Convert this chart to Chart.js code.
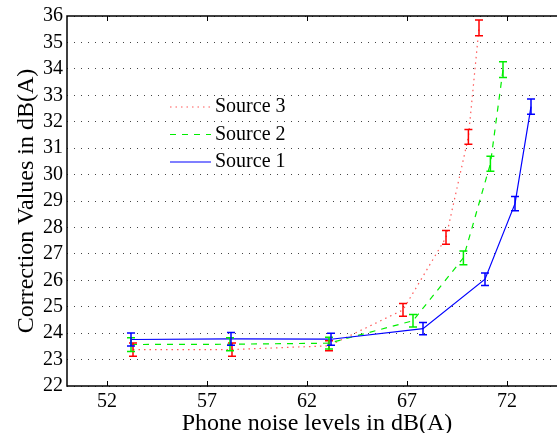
<!DOCTYPE html>
<html>
<head>
<meta charset="utf-8">
<script src="https://cdn.jsdelivr.net/npm/chart.js@4.4.0/dist/chart.umd.min.js"></script>
<style>
  html, body { margin: 0; padding: 0; background: #fff; overflow: hidden; }
  #wrap { width: 557px; height: 433px; overflow: hidden; }
</style>
</head>
<body>
<div id="wrap"><canvas id="chart" width="580" height="433"></canvas></div>
<script>
// 数据
const seriesLabels = ['Source 1', 'Source 2', 'Source 3'];
const seriesColors = ['#0000ff', '#00ee00', '#ff0000'];

const source1X = [53.2, 58.2, 63.2, 67.8, 70.9, 72.4, 73.2];
const source1Y = [23.76, 23.78, 23.77, 24.17, 26.04, 28.9, 32.57];
const source1Err = [0.25, 0.24, 0.23, 0.23, 0.24, 0.27, 0.29];

const source2X = [53.2, 58.15, 63.1, 67.3, 69.82, 71.17, 71.8];
const source2Y = [23.57, 23.58, 23.62, 24.47, 26.85, 30.41, 33.97];
const source2Err = [0.26, 0.25, 0.22, 0.24, 0.26, 0.28, 0.3];

const source3X = [53.3, 58.25, 63.1, 66.8, 68.95, 70.07, 70.6];
const source3Y = [23.38, 23.38, 23.52, 24.88, 27.62, 31.43, 35.55];
const source3Err = [0.25, 0.25, 0.19, 0.24, 0.26, 0.28, 0.3];

const xTickValues = [52, 57, 62, 67, 72];
const xTitle = 'Phone noise levels in dB(A)';
const yTitle = 'Correction Values in dB(A)';

const serif = '"Liberation Serif", "DejaVu Serif", serif';

function toPoints(xs, ys) {
    return xs.map((x, i) => ({ x: x, y: ys[i] }));
}

// 误差棒
const errorBarPlugin = {
    id: 'errorBars',
    afterDatasetsDraw(chart) {
        const ctx = chart.ctx;
        const xs = chart.scales.x;
        const ys = chart.scales.y;
        const errs = [source1Err, source2Err, source3Err];
        ctx.save();
        for (let d = chart.data.datasets.length - 1; d >= 0; d--) {
            const ds = chart.data.datasets[d];
            ctx.strokeStyle = ds.barColor;
            ctx.lineWidth = 1.5;
            ctx.setLineDash([]);
            ds.data.forEach((p, i) => {
                const px = xs.getPixelForValue(p.x);
                const top = ys.getPixelForValue(p.y + errs[d][i]);
                const bot = ys.getPixelForValue(p.y - errs[d][i]);
                const cap = 4;
                ctx.beginPath();
                ctx.moveTo(px, top); ctx.lineTo(px, bot);
                ctx.moveTo(px - cap, top); ctx.lineTo(px + cap, top);
                ctx.moveTo(px - cap, bot); ctx.lineTo(px + cap, bot);
                ctx.stroke();
            });
        }
        ctx.restore();
    }
};

// 边框和内向刻度
const framePlugin = {
    id: 'frame',
    afterDraw(chart) {
        const ctx = chart.ctx;
        const a = chart.chartArea;
        const xs = chart.scales.x;
        ctx.save();
        ctx.strokeStyle = '#000';
        ctx.lineWidth = 1.5;
        ctx.setLineDash([]);
        ctx.strokeRect(a.left, a.top, a.right - a.left, a.bottom - a.top);
        ctx.lineWidth = 1;
        xTickValues.forEach(v => {
            const px = Math.round(xs.getPixelForValue(v)) + 0.5;
            ctx.beginPath();
            ctx.moveTo(px, a.bottom); ctx.lineTo(px, a.bottom - 5);
            ctx.moveTo(px, a.top); ctx.lineTo(px, a.top + 5);
            ctx.stroke();
        });
        ctx.restore();
    }
};

// 图例（画在图内）
const innerLegendPlugin = {
    id: 'innerLegend',
    afterDraw(chart) {
        const ctx = chart.ctx;
        const rows = [2, 1, 0];
        const x0 = 170, x1 = 211, y0 = 107, gap = 27.5;
        ctx.save();
        ctx.font = '20px ' + serif;
        ctx.textBaseline = 'middle';
        ctx.fillStyle = '#000';
        rows.forEach((d, r) => {
            const ds = chart.data.datasets[d];
            const y = y0 + r * gap;
            ctx.strokeStyle = ds.borderColor;
            ctx.lineWidth = ds.borderWidth;
            ctx.setLineDash(ds.borderDash || []);
            ctx.beginPath();
            ctx.moveTo(x0, y); ctx.lineTo(x1, y);
            ctx.stroke();
            ctx.fillText(ds.label, x1 + 4, y);
        });
        ctx.restore();
    }
};

new Chart(document.getElementById('chart'), {
    type: 'line',
    data: {
        datasets: [
            {
                label: seriesLabels[0],
                data: toPoints(source1X, source1Y),
                borderColor: seriesColors[0],
                barColor: seriesColors[0],
                borderWidth: 1.2,
                borderDash: []
            },
            {
                label: seriesLabels[1],
                data: toPoints(source2X, source2Y),
                borderColor: seriesColors[1],
                barColor: seriesColors[1],
                borderWidth: 1.2,
                borderDash: [6, 6]
            },
            {
                label: seriesLabels[2],
                data: toPoints(source3X, source3Y),
                borderColor: 'rgba(255, 60, 60, 0.85)',
                barColor: seriesColors[2],
                borderWidth: 1.2,
                borderDash: [1.5, 4]
            }
        ]
    },
    options: {
        responsive: false,
        animation: false,
        layout: { padding: { top: 16, right: 13, left: 0, bottom: 0 } },
        elements: {
            point: { radius: 0 },
            line: { tension: 0, fill: false }
        },
        plugins: {
            legend: { display: false },
            tooltip: { enabled: false }
        },
        scales: {
            x: {
                type: 'linear',
                min: 50,
                max: 75,
                afterBuildTicks: s => { s.ticks = xTickValues.map(v => ({ value: v })); },
                afterFit: s => { s.height = 47; },
                grid: { display: false },
                border: { display: false },
                ticks: {
                    color: '#000',
                    padding: -4,
                    font: { family: serif, size: 20 }
                },
                title: {
                    display: true,
                    text: xTitle,
                    color: '#000',
                    padding: { top: 0, bottom: -5 },
                    font: { family: serif, size: 24 }
                }
            },
            y: {
                min: 22,
                max: 36,
                afterFit: s => { s.width = 67; },
                grid: {
                    color: '#444',
                    lineWidth: 1,
                    drawTicks: false
                },
                border: { display: false, dash: [1, 6] },
                ticks: {
                    stepSize: 1,
                    autoSkip: false,
                    color: '#000',
                    padding: 4,
                    font: { family: serif, size: 20 }
                },
                title: {
                    display: true,
                    text: yTitle,
                    color: '#000',
                    padding: { top: 12, bottom: 0 },
                    font: { family: serif, size: 24 }
                }
            }
        }
    },
    plugins: [errorBarPlugin, framePlugin, innerLegendPlugin]
});
</script>
</body>
</html>
